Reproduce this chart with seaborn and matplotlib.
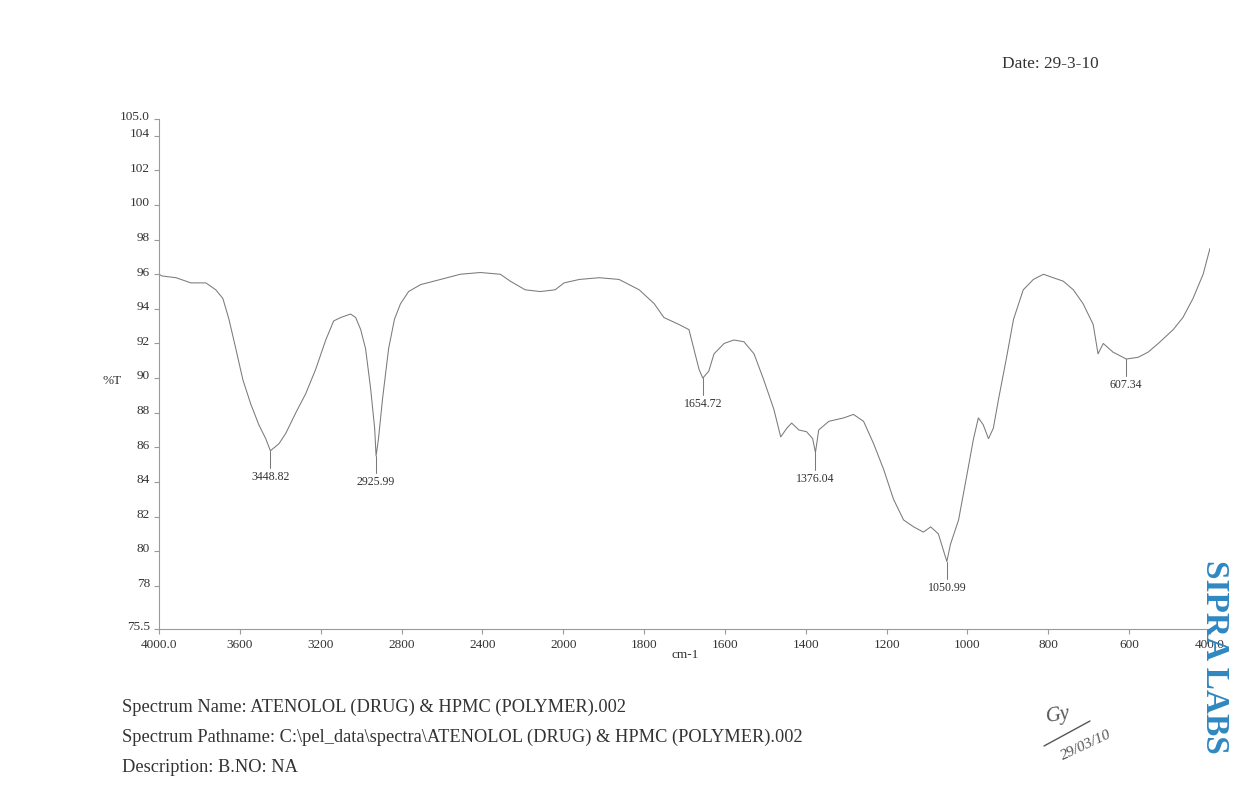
import numpy as np
import pandas as pd
import matplotlib
matplotlib.use("Agg")
import matplotlib.pyplot as plt
import matplotlib.transforms as mtransforms
from matplotlib.lines import Line2D
from matplotlib.ticker import NullLocator
import seaborn as sns

# FT-IR spectrum: wavenumber (cm-1) and transmittance (%T)
wavenumber = [
    4000, 3985, 3916, 3842, 3768, 3719, 3684, 3654, 3620, 3585, 3546, 3506,
    3472, 3448.82, 3407, 3373, 3323, 3274, 3225, 3175, 3136, 3101, 3052, 3027,
    3002, 2978, 2953, 2933, 2925.99, 2914, 2894, 2864, 2835, 2805, 2765, 2706,
    2607, 2509, 2410, 2311, 2262, 2188, 2114, 2040, 1998, 1960, 1911, 1862,
    1812, 1775, 1751, 1714, 1689, 1677, 1664, 1654.72, 1640, 1627, 1602, 1578,
    1553, 1528, 1504, 1479, 1462, 1447, 1435, 1417, 1398, 1383, 1376.04, 1368,
    1343, 1306, 1282, 1257, 1232, 1207, 1183, 1158, 1133, 1109, 1091, 1072,
    1050.99, 1042, 1022, 1003, 985, 973, 961, 948, 936, 923, 904, 886, 862,
    837, 812, 788, 763, 738, 714, 689, 677, 664, 640, 615, 607.34, 578, 553,
    528, 491, 467, 442, 417, 400,
]
transmittance = [
    96.0, 95.9, 95.8, 95.5, 95.5, 95.1, 94.6, 93.4, 91.7, 89.9, 88.5, 87.3,
    86.5, 85.8, 86.2, 86.8, 88.0, 89.1, 90.5, 92.2, 93.3, 93.5, 93.7, 93.5,
    92.8, 91.7, 89.4, 87.1, 85.5, 86.5, 88.8, 91.7, 93.4, 94.3, 95.0, 95.4,
    95.7, 96.0, 96.1, 96.0, 95.6, 95.1, 95.0, 95.1, 95.5, 95.7, 95.8, 95.7,
    95.1, 94.3, 93.5, 93.1, 92.8, 91.7, 90.5, 90.0, 90.4, 91.4, 92.0, 92.2,
    92.1, 91.4, 89.9, 88.2, 86.6, 87.1, 87.4, 87.0, 86.9, 86.5, 85.7, 87.0,
    87.5, 87.7, 87.9, 87.5, 86.2, 84.7, 83.0, 81.8, 81.4, 81.1, 81.4, 81.0,
    79.4, 80.4, 81.8, 84.2, 86.5, 87.7, 87.3, 86.5, 87.1, 88.8, 91.1, 93.4, 95.1,
    95.7, 96.0, 95.8, 95.6, 95.1, 94.3, 93.1, 91.4, 92.0, 91.5, 91.2, 91.1, 91.2, 91.5,
    92.0, 92.8, 93.5, 94.6, 96.0, 97.5,
]

# Labelled absorption peaks
peak_wavenumbers = [3448.82, 2925.99, 1654.72, 1376.04, 1050.99, 607.34]
peak_transmittance = [85.8, 85.5, 90.0, 85.7, 79.4, 91.1]

x_ticks = [4000, 3600, 3200, 2800, 2400, 2000, 1800, 1600, 1400, 1200, 1000, 800, 600, 400]
x_tick_labels = ["4000.0", "3600", "3200", "2800", "2400", "2000", "1800", "1600",
                 "1400", "1200", "1000", "800", "600", "400.0"]
y_ticks = [75.5, 78, 80, 82, 84, 86, 88, 90, 92, 94, 96, 98, 100, 102, 104, 105.0]
y_tick_labels = ["75.5", "78", "80", "82", "84", "86", "88", "90", "92", "94", "96",
                 "98", "100", "102", "104", "105.0"]

sns.set_theme(style="white")
plt.rcParams["font.family"] = ["Liberation Serif", "DejaVu Serif"]

W, H = 1260, 812
fig = plt.figure(figsize=(W / 100, H / 100), dpi=100, facecolor="white")
ax = fig.add_axes([159 / W, 1 - 630 / H, (1210 - 159) / W, (630 - 119.5) / H])
ax.set_facecolor("white")

df = pd.DataFrame({"cm-1": wavenumber, "%T": transmittance})
sns.lineplot(data=df, x="cm-1", y="%T", ax=ax, color="#7a7a7a", linewidth=0.75,
             sort=False, estimator=None)

# Spectrometer-style axis: 2x expansion below 2000 cm-1
def fwd(x):
    x = np.asarray(x, dtype=float)
    return np.where(x > 2000, 2000 + (x - 2000) / 2, x)

def inv(t):
    t = np.asarray(t, dtype=float)
    return np.where(t > 2000, 2000 + (t - 2000) * 2, t)

ax.set_xscale("function", functions=(fwd, inv))
ax.set_xlim(4000, 400)
ax.set_ylim(75.5, 105.0)
ax.set_xticks(x_ticks, x_tick_labels)
ax.set_yticks(y_ticks, y_tick_labels)
ax.xaxis.set_minor_locator(NullLocator())
ax.yaxis.set_minor_locator(NullLocator())
ax.set_xlabel("")
ax.set_ylabel("")

for side in ("top", "right"):
    ax.spines[side].set_visible(False)
for side in ("left", "bottom"):
    ax.spines[side].set_color("#9a9a9a")
    ax.spines[side].set_linewidth(0.8)
ax.tick_params(axis="both", which="major", bottom=True, left=True, direction="out",
               length=3.5, width=0.8, color="#9a9a9a", labelsize=9.5,
               labelcolor="#333333", pad=3)
offset = mtransforms.ScaledTranslation(0, 3 / 72, fig.dpi_scale_trans)
for lab in ax.get_yticklabels():
    lab.set_transform(lab.get_transform() + offset)

# Peak markers and labels
for wn, t in zip(peak_wavenumbers, peak_transmittance):
    ax.plot([wn, wn], [t, t - 1.0], color="#7a7a7a", linewidth=0.75)
    ax.text(wn, t - 1.1, f"{wn:.2f}", ha="center", va="top", fontsize=8.6,
            color="#333333")

fig.text(112 / W, 1 - 381 / H, "%T", ha="center", va="center", fontsize=9.5,
         color="#333333")
fig.text(685 / W, 1 - 655 / H, "cm-1", ha="center", va="center", fontsize=9.5,
         color="#333333")

fig.text(1002 / W, 1 - 64 / H, "Date: 29-3-10", ha="left", va="center",
         fontsize=12.4, color="#333333")

footer = [
    "Spectrum Name: ATENOLOL (DRUG) & HPMC (POLYMER).002",
    "Spectrum Pathname: C:\\pel_data\\spectra\\ATENOLOL (DRUG) & HPMC (POLYMER).002",
    "Description: B.NO: NA",
]
for i, line in enumerate(footer):
    fig.text(122 / W, 1 - (707 + 30.5 * i) / H, line, ha="left", va="center",
             fontsize=13.2, color="#333333")

fig.text(1215 / W, 1 - 657 / H, "SIPRA LABS", rotation=-90, ha="center",
         va="center", fontsize=24, fontweight="bold", color="#2f88c3")

# Hand-written initials and date
fig.text(1058 / W, 1 - 716 / H, "Gy", rotation=10, ha="center", va="center",
         fontsize=15, style="italic", color="#555555")
fig.add_artist(Line2D([1044 / W, 1090 / W], [1 - 747 / H, 1 - 722 / H],
                      color="#555555", linewidth=1.0))
fig.text(1086 / W, 1 - 745 / H, "29/03/10", rotation=25, ha="center", va="center",
         fontsize=11, style="italic", color="#555555")

fig.savefig("out.png", dpi=100, facecolor="white")
